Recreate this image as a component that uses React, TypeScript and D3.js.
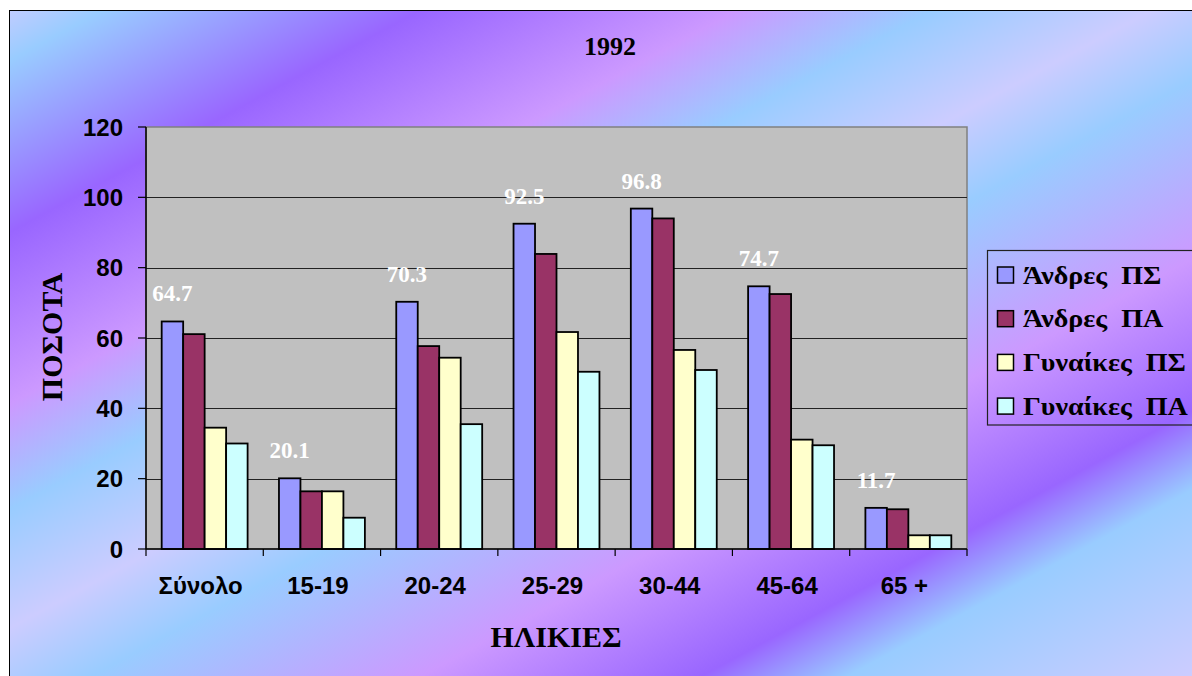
import React from "react";
import * as d3 from "d3";

const categories = ["Σύνολο", "15-19", "20-24", "25-29", "30-44", "45-64", "65 +"];
const andresPS = [64.7, 20.1, 70.3, 92.5, 96.8, 74.7, 11.7];
const andresPA = [61.1, 16.4, 57.7, 83.9, 94.0, 72.5, 11.3];
const gynaikesPS = [34.5, 16.4, 54.4, 61.7, 56.6, 31.1, 3.9];
const gynaikesPA = [30.0, 8.9, 35.5, 50.4, 50.9, 29.5, 3.9];
const seriesNames = ["Άνδρες  ΠΣ", "Άνδρες  ΠΑ", "Γυναίκες  ΠΣ", "Γυναίκες  ΠΑ"];
const seriesColors = ["#9999FF", "#993366", "#FFFFCC", "#CCFFFF"];
const yTicks = [0, 20, 40, 60, 80, 100, 120];
const title = "1992";
const yTitle = "ΠΟΣΟΤΑ";
const xTitle = "ΗΛΙΚΙΕΣ";

const allSeries = [andresPS, andresPA, gynaikesPS, gynaikesPA];

const W = 1192;
const H = 676;
const plot = { left: 146, right: 967, top: 127, bottom: 549 };

const bgStops: [number, string][] = [
  [0, "#CCCCFF"],
  [0.05, "#99CCFF"],
  [0.18, "#9966FF"],
  [0.31, "#CC99FF"],
  [0.39, "#99CCFF"],
  [0.48, "#CCCCFF"],
  [0.55, "#99CCFF"],
  [0.685, "#CC99FF"],
  [0.8, "#9966FF"],
  [0.86, "#99CCFF"],
  [1, "#CCCCFF"],
];

export default function App() {
  const x = d3.scaleBand<string>().domain(categories).range([plot.left, plot.right]).padding(0);
  const xs = d3
    .scaleBand<number>()
    .domain(d3.range(allSeries.length))
    .range([0, x.bandwidth()])
    .paddingInner(0)
    .paddingOuter(0.73);
  const y = d3.scaleLinear().domain([0, 120]).range([plot.bottom, plot.top]);

  const gLen = 1160;
  const dir = [0.476, 0.88];

  return (
    <svg
      width={W}
      height={H}
      style={{ position: "absolute", left: 0, top: 0, display: "block" }}
    >
      <defs>
        <linearGradient
          id="bg"
          gradientUnits="userSpaceOnUse"
          x1={0}
          y1={0}
          x2={dir[0] * gLen}
          y2={dir[1] * gLen}
        >
          {bgStops.map(([o, c], i) => (
            <stop key={i} offset={o} stopColor={c} />
          ))}
        </linearGradient>
      </defs>
      <rect x={0} y={0} width={W} height={H} fill="#fff" />
      <rect x={9.5} y={10.5} width={W} height={H} fill="url(#bg)" stroke="#000" strokeWidth={1} />

      {/* title */}
      <text
        x={610}
        y={55}
        textAnchor="middle"
        fontFamily="'Liberation Serif', 'Times New Roman', serif"
        fontWeight="bold"
        fontSize={26}
        fill="#000"
      >
        {title}
      </text>

      {/* plot area */}
      <rect
        x={plot.left}
        y={plot.top}
        width={plot.right - plot.left}
        height={plot.bottom - plot.top}
        fill="#C0C0C0"
        stroke="#808080"
        strokeWidth={1.5}
      />
      {yTicks
        .filter((t) => t > 0 && t < 120)
        .map((t) => (
          <line
            key={t}
            x1={plot.left}
            x2={plot.right}
            y1={Math.round(y(t)) + 0.5}
            y2={Math.round(y(t)) + 0.5}
            stroke="#222"
            strokeWidth={1}
          />
        ))}

      {/* bars */}
      {allSeries.map((vals, si) =>
        vals.map((v, ci) => {
          const bx = (x(categories[ci]) as number) + (xs(si) as number);
          return (
            <rect
              key={`${si}-${ci}`}
              x={bx}
              y={y(v)}
              width={xs.bandwidth()}
              height={y(0) - y(v)}
              fill={seriesColors[si]}
              stroke="#000"
              strokeWidth={1.8}
            />
          );
        })
      )}

      {/* data labels for first series */}
      {andresPS.map((v, ci) => {
        const cx = (x(categories[ci]) as number) + (xs(0) as number) + xs.bandwidth() / 2;
        return (
          <text
            key={ci}
            x={cx}
            y={y(v) - 20}
            textAnchor="middle"
            fontFamily="'Liberation Serif', 'Times New Roman', serif"
            fontWeight="bold"
            fontSize={23}
            fill="#FFFFFF"
          >
            {v.toFixed(1)}
          </text>
        );
      })}

      {/* axes */}
      <line x1={plot.left} x2={plot.left} y1={plot.top} y2={plot.bottom} stroke="#000" strokeWidth={1.5} />
      <line x1={plot.left} x2={plot.right} y1={plot.bottom} y2={plot.bottom} stroke="#000" strokeWidth={1.5} />
      {yTicks.map((t) => (
        <g key={t}>
          <line x1={plot.left - 8} x2={plot.left} y1={y(t)} y2={y(t)} stroke="#000" strokeWidth={1.2} />
          <text
            x={123}
            y={y(t)}
            dy="0.36em"
            textAnchor="end"
            fontFamily="'Liberation Sans', Arial, sans-serif"
            fontWeight="bold"
            fontSize={24}
            fill="#000"
          >
            {t}
          </text>
        </g>
      ))}
      {categories.map((c, i) => (
        <line
          key={`t${i}`}
          x1={x(c) as number}
          x2={x(c) as number}
          y1={plot.bottom}
          y2={plot.bottom + 7}
          stroke="#000"
          strokeWidth={1.2}
        />
      ))}
      <line x1={plot.right} x2={plot.right} y1={plot.bottom} y2={plot.bottom + 7} stroke="#000" strokeWidth={1.2} />
      {categories.map((c) => (
        <text
          key={c}
          x={(x(c) as number) + x.bandwidth() / 2 - 4}
          y={594}
          textAnchor="middle"
          fontFamily="'Liberation Sans', Arial, sans-serif"
          fontWeight="bold"
          fontSize={24}
          fill="#000"
        >
          {c}
        </text>
      ))}

      {/* axis titles */}
      <text
        x={556}
        y={647}
        textAnchor="middle"
        fontFamily="'Liberation Serif', 'Times New Roman', serif"
        fontWeight="bold"
        fontSize={30}
        fill="#000"
      >
        {xTitle}
      </text>
      <text
        transform={`translate(62,337) rotate(-90)`}
        textAnchor="middle"
        fontFamily="'Liberation Serif', 'Times New Roman', serif"
        fontWeight="bold"
        fontSize={30}
        fill="#000"
      >
        {yTitle}
      </text>

      {/* legend */}
      <rect x={987.5} y={250.5} width={260} height={174.5} fill="none" stroke="#222" strokeWidth={1.2} />
      {seriesNames.map((n, i) => {
        const cy = 275 + i * 43.7;
        return (
          <g key={n}>
            <rect x={997.5} y={cy - 8} width={16} height={16} fill={seriesColors[i]} stroke="#000" strokeWidth={1.5} />
            <text
              transform={`translate(1023,${cy}) scale(1.08,1)`}
              dy="0.33em"
              fontFamily="'Liberation Serif', 'Times New Roman', serif"
              fontWeight="bold"
              fontSize={26}
              fill="#000"
              xmlSpace="preserve"
              style={{ whiteSpace: "pre" }}
            >
              {n}
            </text>
          </g>
        );
      })}
    </svg>
  );
}
